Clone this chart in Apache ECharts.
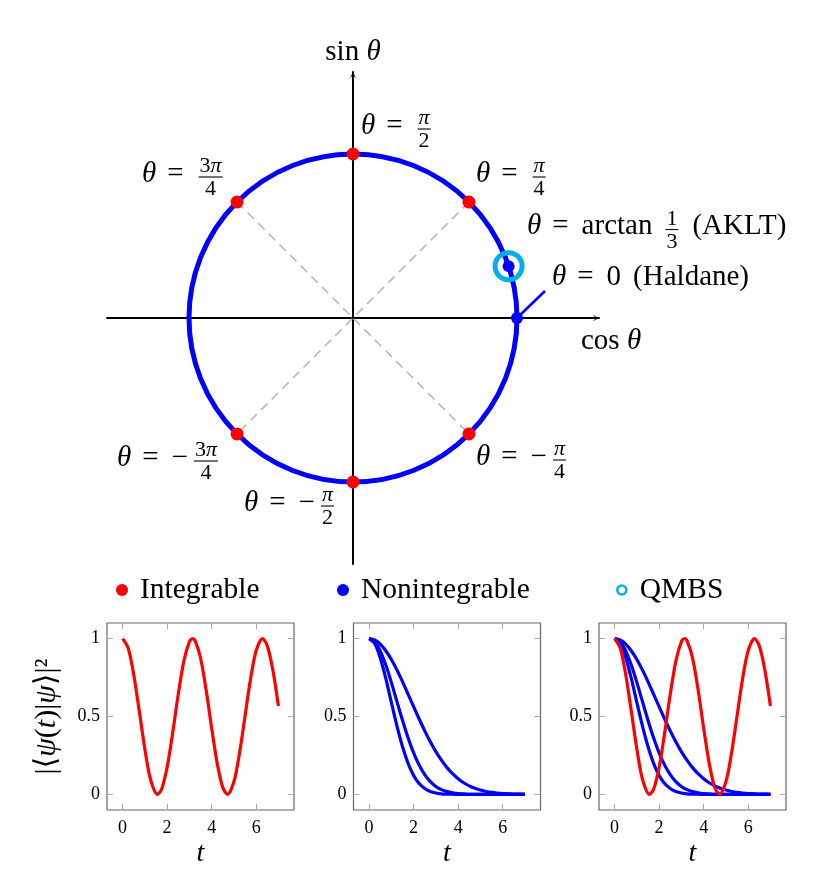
<!DOCTYPE html>
<html><head><meta charset="utf-8">
<script src="https://cdn.jsdelivr.net/npm/echarts@6/dist/echarts.min.js"></script>
<style>html,body{margin:0;padding:0;background:#fff}#c{width:831px;height:893px}</style>
</head><body><div id="c"></div>
<script>
// ---------------- data ----------------
const integrableTheta = [1.5708, 0.7854, 2.3562, -0.7854, -1.5708, -2.3562];
const nonintegrableTheta = [0, 0.3218];
const qmbsTheta = [0.3218];
const diagonalTheta = [[0.7854, -2.3562], [2.3562, -0.7854]];
const circleData = [[0, 0, 1]];

const timeRed = [0,0.25,0.5,0.75,1,1.25,1.571,1.75,2,2.25,2.5,2.75,3,3.142,3.25,3.5,3.75,4,4.25,4.5,4.712,5,5.25,5.5,5.75,6,6.283,6.5,6.75,7];
const fidelityRed = [1,0.939,0.770,0.535,0.292,0.099,0,0.032,0.173,0.395,0.642,0.854,0.980,1,0.988,0.877,0.673,0.427,0.199,0.044,0,0.081,0.262,0.502,0.742,0.922,1,0.954,0.798,0.568];

const timeBlue = [0,0.25,0.5,0.75,1,1.25,1.5,1.75,2,2.25,2.5,2.75,3,3.25,3.5,3.75,4,4.25,4.5,4.75,5,5.25,5.5,5.75,6,6.25,6.5,6.75,7];
const fidelityBlueFast = [1,0.968,0.877,0.744,0.591,0.440,0.307,0.200,0.122,0.070,0.038,0.019,0.009,0.004,0.002,0.001,0,0,0,0,0,0,0,0,0,0,0,0,0];
const fidelityBlueMid  = [1,0.980,0.921,0.830,0.719,0.597,0.476,0.364,0.267,0.188,0.127,0.082,0.051,0.031,0.018,0.010,0.005,0.003,0.001,0.001,0,0,0,0,0,0,0,0,0];
const fidelityBlueSlow = [1,0.991,0.965,0.922,0.866,0.799,0.724,0.644,0.563,0.484,0.408,0.338,0.275,0.220,0.172,0.133,0.101,0.075,0.055,0.039,0.028,0.019,0.013,0.009,0.006,0.004,0.002,0.002,0.001];

const xTicks = [0, 2, 4, 6];
const yTicks = [0, 0.5, 1];
const legendNames = ['Integrable', 'Nonintegrable', 'QMBS'];

// ---------------- helpers ----------------
const FONT = '"Liberation Serif","DejaVu Serif",serif';
const RED = '#ff0000', BLUE = '#0000ff', CYAN = '#00aeef';
const pt = th => [Math.cos(th), Math.sin(th)];
const zip = (a, b) => a.map((v, i) => [v, b[i]]);

const meas = document.createElement('canvas').getContext('2d');
const fontStr = (size, it) => (it ? 'italic ' : '') + size + 'px ' + FONT;
function tw(t, f) { meas.font = f; return meas.measureText(t).width; }
const MAIN = 29, SUB = 22;
function runWidth(segs, size) { return segs.reduce((w, s) => w + tw(s[0], fontStr(size, s[1])), 0); }
function drawRun(els, segs, x, y, size) {
  segs.forEach(s => {
    const f = fontStr(size, s[1]);
    els.push({ type: 'text', x: x, y: y, silent: true,
      style: { text: s[0], font: f, fill: '#000', align: 'left', verticalAlign: 'middle' } });
    x += tw(s[0], f);
  });
  return x;
}
function buildLabel(spec) {
  const els = []; let x = spec.x; const ay = spec.y;
  spec.parts.forEach(p => {
    if (p.gap) { x += p.gap; return; }
    if (p.frac) {
      const wN = runWidth(p.frac[0], SUB), wD = runWidth(p.frac[1], SUB);
      const w = Math.max(wN, wD) + 2; const x0 = x + 2;
      els.push({ type: 'line', silent: true, shape: { x1: x0, y1: ay, x2: x0 + w, y2: ay }, style: { stroke: '#000', lineWidth: 1.1 } });
      drawRun(els, p.frac[0], x0 + (w - wN) / 2, ay - 10.5, SUB);
      drawRun(els, p.frac[1], x0 + (w - wD) / 2, ay + 12.5, SUB);
      x = x0 + w + 2; return;
    }
    x = drawRun(els, p.run, x, ay - 3, MAIN);
  });
  return { type: 'group', children: els };
}
const TH = { run: [['θ', 1]] };
const EQ = [{ gap: 11 }, { run: [['=', 0]] }, { gap: 13 }];
const MINUS = [{ run: [['−', 0]] }, { gap: 4 }];
const fr = (n, d) => ({ frac: [n, d] });
const labelSpecs = [
  { x: 361, y: 129, parts: [TH, ...EQ, fr([['π', 1]], [['2', 0]])] },
  { x: 476, y: 177, parts: [TH, ...EQ, fr([['π', 1]], [['4', 0]])] },
  { x: 142, y: 177, parts: [TH, ...EQ, fr([['3', 0], ['π', 1]], [['4', 0]])] },
  { x: 527, y: 229.5, parts: [TH, ...EQ, { run: [['arctan', 0]] }, { gap: 11 }, fr([['1', 0]], [['3', 0]]), { gap: 12 }, { run: [['(AKLT)', 0]] }] },
  { x: 552, y: 280.5, parts: [TH, ...EQ, { run: [['0', 0]] }, { gap: 12 }, { run: [['(Haldane)', 0]] }] },
  { x: 117, y: 461, parts: [TH, ...EQ, ...MINUS, fr([['3', 0], ['π', 1]], [['4', 0]])] },
  { x: 476, y: 460, parts: [TH, ...EQ, ...MINUS, fr([['π', 1]], [['4', 0]])] },
  { x: 244, y: 506, parts: [TH, ...EQ, ...MINUS, fr([['π', 1]], [['2', 0]])] }
];

// ---------------- chart ----------------
const ARROW = 'path://M0,10 L5,0 L10,10 L5,3.5 Z';
const panelLefts = [107, 353.5, 599];
const grids = [{ left: 107, top: 72, width: 492, height: 492 }];
panelLefts.forEach(l => grids.push({ left: l, top: 623, width: 187, height: 187, show: true,
  borderColor: '#666', borderWidth: 1.2, backgroundColor: 'transparent' }));

const tickStyle = { show: true, inside: true, length: 6, lineStyle: { color: '#aaa', width: 1 } };
const labelStyle = { fontFamily: FONT, fontSize: 18, color: '#000' };

const xAxes = [{
  gridIndex: 0, type: 'value', min: -1.5, max: 1.5,
  axisLine: { show: true, onZero: true, lineStyle: { color: '#000', width: 2 }, symbol: ['none', ARROW], symbolSize: [8, 7], symbolOffset: [0, -3.5] },
  axisTick: { show: false }, axisLabel: { show: false }, splitLine: { show: false },
  name: 'cos {i|θ}', nameLocation: 'end', nameGap: -18,
  nameTextStyle: { fontFamily: FONT, fontSize: MAIN, color: '#000', align: 'left', verticalAlign: 'top', padding: [9, 0, 0, 0],
    rich: { i: { fontFamily: FONT, fontSize: MAIN, fontStyle: 'italic', color: '#000' } } }
}];
const yAxes = [{
  gridIndex: 0, type: 'value', min: -1.5, max: 1.5,
  axisLine: { show: true, onZero: true, lineStyle: { color: '#000', width: 2 }, symbol: ['none', ARROW], symbolSize: [8, 7], symbolOffset: [0, -3.5] },
  axisTick: { show: false }, axisLabel: { show: false }, splitLine: { show: false },
  name: 'sin {i|θ}', nameLocation: 'end', nameGap: 5,
  nameTextStyle: { fontFamily: FONT, fontSize: MAIN, color: '#000', align: 'center',
    rich: { i: { fontFamily: FONT, fontSize: MAIN, fontStyle: 'italic', color: '#000' } } }
}];
panelLefts.forEach((l, i) => {
  const g = i + 1;
  xAxes.push({ gridIndex: g, type: 'value', min: -0.7, max: 7.7, position: 'bottom',
    axisLine: { show: false, onZero: false }, splitLine: { show: false },
    axisTick: Object.assign({ customValues: xTicks }, tickStyle),
    axisLabel: Object.assign({ customValues: xTicks, margin: 9 }, labelStyle),
    name: 't', nameLocation: 'middle', nameGap: 30,
    nameTextStyle: { fontFamily: FONT, fontSize: 28, fontStyle: 'italic', color: '#000' } });
  xAxes.push({ gridIndex: g, type: 'value', min: -0.7, max: 7.7, position: 'top',
    axisLine: { show: false, onZero: false }, splitLine: { show: false },
    axisTick: Object.assign({ customValues: xTicks }, tickStyle), axisLabel: { show: false } });
  const yl = { gridIndex: g, type: 'value', min: -0.1, max: 1.1, position: 'left',
    axisLine: { show: false, onZero: false }, splitLine: { show: false },
    axisTick: Object.assign({ customValues: yTicks }, tickStyle),
    axisLabel: Object.assign({ customValues: yTicks, margin: 7 }, labelStyle) };
  if (i === 0) {
    yl.name = '|⟨{i|ψ}({i|t})|{i|ψ}⟩|²';
    yl.nameLocation = 'middle'; yl.nameRotate = 90; yl.nameGap = 45;
    yl.nameTextStyle = { fontFamily: FONT, fontSize: 30, color: '#000',
      rich: { i: { fontFamily: FONT, fontSize: 30, fontStyle: 'italic', color: '#000' } } };
  }
  yAxes.push(yl);
  yAxes.push({ gridIndex: g, type: 'value', min: -0.1, max: 1.1, position: 'right',
    axisLine: { show: false, onZero: false }, splitLine: { show: false },
    axisTick: Object.assign({ customValues: yTicks }, tickStyle), axisLabel: { show: false } });
});

const series = [];
diagonalTheta.forEach(pair => series.push({
  type: 'line', xAxisIndex: 0, yAxisIndex: 0, data: pair.map(pt), symbol: 'none', silent: true, z: 1,
  lineStyle: { color: '#b8b8b8', width: 1.6, type: [9, 6] }
}));
series.push({
  type: 'custom', xAxisIndex: 0, yAxisIndex: 0, data: circleData, silent: true, z: 3,
  encode: { x: 0, y: 1 },
  renderItem: (params, api) => {
    const c = api.coord([api.value(0), api.value(1)]);
    const r = api.size([api.value(2), 0])[0];
    return { type: 'circle', shape: { cx: c[0], cy: c[1], r: r }, style: { fill: 'none', stroke: BLUE, lineWidth: 5 } };
  }
});
series.push({
  type: 'custom', xAxisIndex: 0, yAxisIndex: 0, data: [pt(nonintegrableTheta[0])], silent: true, z: 3,
  encode: { x: 0, y: 1 },
  renderItem: (params, api) => {
    const c = api.coord([api.value(0), api.value(1)]);
    return { type: 'line', shape: { x1: c[0], y1: c[1], x2: c[0] + 28, y2: c[1] - 27 }, style: { stroke: BLUE, lineWidth: 2.6 } };
  }
});
series.push({ name: 'QMBS', type: 'scatter', xAxisIndex: 0, yAxisIndex: 0, data: qmbsTheta.map(pt), symbol: 'circle', symbolSize: 27, z: 4,
  itemStyle: { color: 'rgba(0,0,0,0)', borderColor: CYAN, borderWidth: 5, opacity: 1 } });
series.push({ name: 'Integrable', type: 'scatter', xAxisIndex: 0, yAxisIndex: 0, data: integrableTheta.map(pt), symbol: 'circle', symbolSize: 13, z: 5,
  itemStyle: { color: RED, opacity: 1 } });
series.push({ name: 'Nonintegrable', type: 'scatter', xAxisIndex: 0, yAxisIndex: 0, data: nonintegrableTheta.map(pt), symbol: 'circle', symbolSize: 12, z: 5,
  itemStyle: { color: BLUE, opacity: 1 } });

function curve(axis, t, y, color) {
  return { type: 'line', xAxisIndex: axis, yAxisIndex: axis, data: zip(t, y), symbol: 'none', smooth: 0.3, silent: true,
    lineStyle: { color: color, width: 3.2 }, z: color === RED ? 4 : 3 };
}
series.push(curve(1, timeRed, fidelityRed, RED));
[fidelityBlueFast, fidelityBlueMid, fidelityBlueSlow].forEach(f => {
  series.push(curve(3, timeBlue, f, BLUE));
  series.push(curve(5, timeBlue, f, BLUE));
});
series.push(curve(5, timeRed, fidelityRed, RED));

const legendText = { fontFamily: FONT, fontSize: 29.5, color: '#000' };
const legendIcons = [
  { name: legendNames[0], icon: 'circle', itemStyle: { color: RED, opacity: 1 } },
  { name: legendNames[1], icon: 'circle', itemStyle: { color: BLUE, opacity: 1 } },
  { name: legendNames[2], icon: 'circle', itemStyle: { color: '#fff', borderColor: CYAN, borderWidth: 2.6, opacity: 1 } }
];
const legendLefts = [116, 337, 616];
const legends = legendIcons.map((d, i) => ({
  left: legendLefts[i], top: 575, padding: 0, itemWidth: 26, itemHeight: i === 2 ? 9 : 12,
  selectedMode: false, data: [d], textStyle: legendText
}));

const chart = echarts.init(document.getElementById('c'), null, { renderer: 'canvas' });
chart.setOption({
  animation: false,
  backgroundColor: '#fff',
  grid: grids, xAxis: xAxes, yAxis: yAxes, series: series, legend: legends,
  graphic: labelSpecs.map(buildLabel)
});
</script>
</body></html>
